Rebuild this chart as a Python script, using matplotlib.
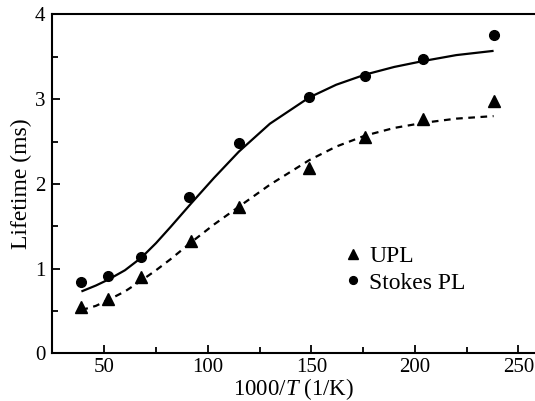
import numpy as np
import matplotlib
matplotlib.use("Agg")
import matplotlib.pyplot as plt

plt.rcParams['font.family'] = ['Liberation Serif', 'DejaVu Serif']
plt.rcParams['mathtext.fontset'] = 'custom'
plt.rcParams['mathtext.it'] = 'Liberation Serif:italic'
plt.rcParams['mathtext.rm'] = 'Liberation Serif'

# measured points
inv_t = [39, 52, 68, 92, 115, 149, 176, 204, 238]
upl = [0.55, 0.64, 0.90, 1.33, 1.73, 2.19, 2.55, 2.76, 2.98]
stokes_x = [39, 52, 68, 91, 115, 149, 176, 204, 238]
stokes = [0.84, 0.91, 1.14, 1.84, 2.48, 3.02, 3.27, 3.47, 3.76]

# fit curves
fit_x = [39, 46, 52, 60, 68, 75, 82, 92, 103, 115, 130, 149, 162, 176, 190, 204, 220, 238]
fit_stokes = [0.73, 0.80, 0.87, 0.98, 1.13, 1.30, 1.49, 1.77, 2.07, 2.38, 2.71, 3.02,
              3.17, 3.29, 3.38, 3.45, 3.52, 3.57]
fit_upl = [0.51, 0.56, 0.63, 0.73, 0.86, 0.98, 1.11, 1.31, 1.52, 1.73, 1.99, 2.28,
           2.44, 2.57, 2.66, 2.72, 2.77, 2.80]

fig = plt.figure(figsize=(5.35, 4.01), dpi=100)
ax = fig.add_axes([0.098, 0.119, 0.902, 0.845])

ax.plot(fit_x, fit_stokes, color='black', lw=1.6, solid_capstyle='butt')
ax.plot(fit_x, fit_upl, color='black', lw=1.6, ls=(0, (3, 2.5)))
ax.plot(inv_t, upl, '^', color='black', ms=9, label='UPL')
ax.plot(stokes_x, stokes, 'o', color='black', ms=7, label='Stokes PL')

ax.set_xlim(25, 258)
ax.set_ylim(0, 4)
ax.set_xticks([50, 100, 150, 200, 250])
ax.set_xticks([75, 125, 175, 225], minor=True)
ax.set_yticks([0, 1, 2, 3, 4])
ax.set_yticks([0.5, 1.5, 2.5, 3.5], minor=True)
ax.tick_params(which='both', direction='in', top=False, right=False,
               labelsize=15, width=1.3)
ax.tick_params(which='major', length=6)
ax.tick_params(which='minor', length=4)
ax.tick_params(axis='y', pad=5)
for s in ['left', 'bottom', 'top']:
    ax.spines[s].set_linewidth(1.5)
ax.spines['right'].set_visible(False)

ax.set_xlabel('1000/$\\mathit{T}$ (1/K)', fontsize=16.5, labelpad=-1)
ax.set_ylabel('Lifetime (ms)', fontsize=17, labelpad=2)

ax.legend(loc='upper left', bbox_to_anchor=(0.608, 0.317), frameon=False,
          fontsize=17, handletextpad=0.4, labelspacing=0.2,
          handlelength=0.6, markerscale=0.8, borderpad=0, borderaxespad=0)

fig.savefig('out.png', dpi=100)
